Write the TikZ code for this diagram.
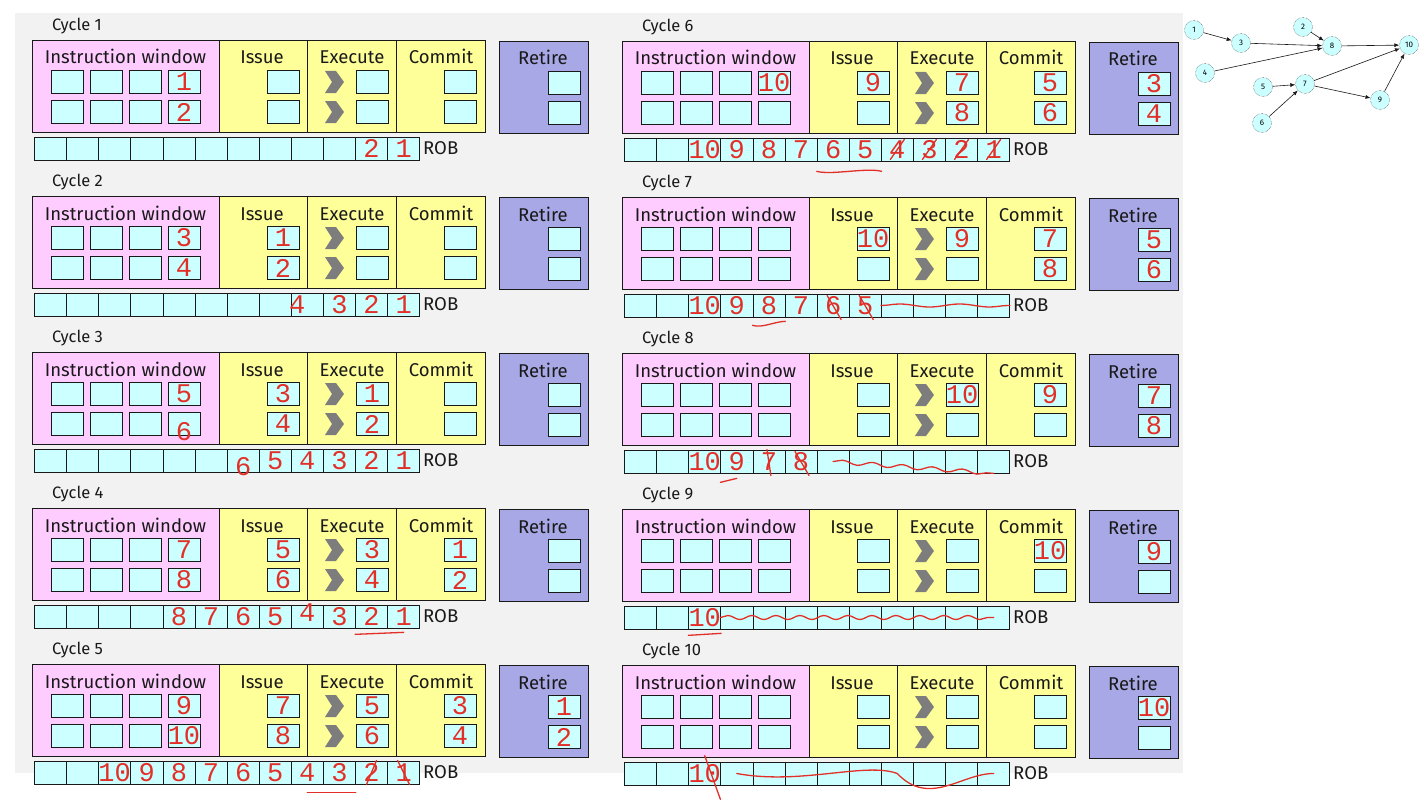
\documentclass[tikz,border=0pt]{standalone}
\usepackage{fontspec}
\setmainfont{Fira Sans}
\newfontfamily\handfont{Liberation Mono}
\usetikzlibrary{arrows.meta, decorations.pathmorphing}
\definecolor{cWin}{RGB}{255,204,255}
\definecolor{cStage}{RGB}{255,255,153}
\definecolor{cRetire}{RGB}{168,168,230}
\definecolor{cCell}{RGB}{204,255,255}
\definecolor{cBack}{RGB}{242,242,242}
\definecolor{cChev}{RGB}{125,125,125}
\definecolor{cInk}{RGB}{226,48,40}
\definecolor{tDark}{RGB}{25,25,25}

% one cycle of the pipeline: id, x, y, title
\newcommand{\cyclepanel}[4]{%
  \begin{scope}[shift={(#2,#3)}]
    \node[cyctitle] (#1t) at (20,-14) {#4};
    \node[stage=cWin, minimum width=187pt] (#1win) at (0,0) {};
    \node[stage=cStage, minimum width=88pt] (#1iss) at (187,0) {};
    \node[stage=cStage, minimum width=89pt] (#1exe) at (275,0) {};
    \node[stage=cStage, minimum width=89pt] (#1com) at (364,0) {};
    \node[stage=cRetire, minimum width=89pt] (#1ret) at (467,1) {};
    \node[head] (#1hw) at (93.5,24) {Instruction window};
    \node[head] (#1hi) at (230,24) {Issue};
    \node[head] (#1he) at (320,24) {Execute};
    \node[head] (#1hc) at (409,24) {Commit};
    \node[head] (#1hr) at (511,25) {Retire};
    \foreach \r/\yy in {1/42,2/72} {
      \foreach \c/\xx in {1/35,2/74,3/113,4/152}
        \node[cell] (#1w\r\c) at (\xx,\yy) {};
      \node[cell] (#1i\r) at (251,\yy) {};
      \fill[cChev] (293,\yy-11) -- (304,\yy-11) -- (312,\yy) -- (304,\yy+11)
        -- (293,\yy+11) -- (300,\yy) -- cycle;
      \node[cell] (#1e\r) at (340,\yy) {};
      \node[cell] (#1c\r) at (428,\yy) {};
      \node[cell] (#1r\r) at (532,\yy+1) {};
    }
    \foreach \k in {1,...,12}
      \node[cell, minimum width=32.1pt] (#1b\k) at ({18.5+32.1*(\k-1)},108.5) {};
    \node[head, anchor=west] (#1rob) at (391,108.5) {ROB};
  \end{scope}}

% handwritten entry on a cell
\newcommand{\hw}[3][]{\node[hand,#1] (#2h) at (#2) {#3};}

\begin{document}
\begin{tikzpicture}[
    x=1pt, y=-1pt,
    stage/.style={draw=tDark, fill=#1, line width=0.8pt, anchor=north west,
        minimum height=92pt, inner sep=0pt},
    cell/.style={draw=tDark, fill=cCell, line width=0.7pt, minimum width=32pt,
        minimum height=23pt, inner sep=0pt},
    head/.style={anchor=base, inner sep=0pt, text=tDark, font=\fontsize{18.5}{18.5}\selectfont},
    cyctitle/.style={anchor=west, inner sep=0pt, text=tDark, font=\fontsize{16.5}{17}\selectfont},
    hand/.style={text=cInk, inner sep=0pt, font=\handfont\fontsize{27}{27}\selectfont},
    ink/.style={draw=cInk, line width=1.3pt, line cap=round},
    wavy/.style={ink, decorate, decoration={snake, amplitude=2pt, segment length=30pt}},
    gnode/.style={circle, draw=tDark, densely dotted, fill=cCell, minimum size=19pt,
        inner sep=0pt, font=\fontsize{8}{8}\selectfont},
    garrow/.style={-{Latex[length=5pt, width=4pt]}, draw=tDark, line width=0.6pt}
]
\fill[white] (0,0) rectangle (1422,800);
\useasboundingbox (0,0) rectangle (1422,800);
\fill[cBack] (15,13) rectangle (1183,773);

\cyclepanel{ca}{32}{40}{Cycle 1}
\cyclepanel{cb}{32}{196}{Cycle 2}
\cyclepanel{cc}{32}{352}{Cycle 3}
\cyclepanel{cd}{32}{508}{Cycle 4}
\cyclepanel{ce}{32}{664}{Cycle 5}
\cyclepanel{cf}{622}{41}{Cycle 6}
\cyclepanel{cg}{622}{197}{Cycle 7}
\cyclepanel{ch}{622}{353}{Cycle 8}
\cyclepanel{ci}{622}{509}{Cycle 9}
\cyclepanel{cj}{622}{665}{Cycle 10}

% Cycle 1
\hw{caw14}{1} \hw{caw24}{2}
\hw{cab11}{2} \hw{cab12}{1}

% Cycle 2
\hw{cbw14}{3} \hw{cbw24}{4} \hw{cbi1}{1} \hw{cbi2}{2}
\hw[xshift=-10pt]{cbb9}{4} \hw{cbb10}{3} \hw{cbb11}{2} \hw{cbb12}{1}

% Cycle 3
\hw{ccw14}{5} \hw[yshift=-8pt]{ccw24}{6} \hw{cci1}{3} \hw{cci2}{4}
\hw{cce1}{1} \hw{cce2}{2}
\hw[yshift=-6pt]{ccb7}{6} \hw{ccb8}{5} \hw{ccb9}{4} \hw{ccb10}{3}
\hw{ccb11}{2} \hw{ccb12}{1}

% Cycle 4
\hw{cdw14}{7} \hw{cdw24}{8} \hw{cdi1}{5} \hw{cdi2}{6}
\hw{cde1}{3} \hw{cde2}{4} \hw{cdc1}{1} \hw{cdc2}{2}
\hw{cdb5}{8} \hw{cdb6}{7} \hw{cdb7}{6} \hw{cdb8}{5} \hw[yshift=4pt]{cdb9}{4}
\hw{cdb10}{3} \hw{cdb11}{2} \hw{cdb12}{1}
\draw[ink] ([yshift=-6pt]cdb11.south west) -- ([yshift=-4pt]cdb12.south);

% Cycle 5
\hw{cew14}{9} \hw{cew24}{10} \hw{cei1}{7} \hw{cei2}{8}
\hw{cee1}{5} \hw{cee2}{6} \hw{cec1}{3} \hw{cec2}{4} \hw{cer1}{1} \hw{cer2}{2}
\hw{ceb3}{10} \hw{ceb4}{9} \hw{ceb5}{8} \hw{ceb6}{7} \hw{ceb7}{6} \hw{ceb8}{5}
\hw{ceb9}{4} \hw{ceb10}{3} \hw{ceb11}{2} \hw{ceb12}{1}
\draw[ink] ([yshift=-8pt]ceb9.south) -- ([yshift=-8pt]ceb10.south east);
\draw[ink] ([shift={(-5pt,-12pt)}]ceb11h.center) -- ([shift={(5pt,12pt)}]ceb11h.center);
\draw[ink] ([shift={(6pt,-12pt)}]ceb12h.center) -- ([shift={(-6pt,12pt)}]ceb12h.center);

% Cycle 6
\hw{cfw14}{10} \hw{cfi1}{9} \hw{cfe1}{7} \hw{cfe2}{8}
\hw{cfc1}{5} \hw{cfc2}{6} \hw{cfr1}{3} \hw{cfr2}{4}
\hw{cfb3}{10} \hw{cfb4}{9} \hw{cfb5}{8} \hw{cfb6}{7} \hw{cfb7}{6} \hw{cfb8}{5}
\hw{cfb9}{4} \hw{cfb10}{3} \hw{cfb11}{2} \hw{cfb12}{1}
\foreach \k in {9,...,12}
  \draw[ink] ([shift={(-7pt,-10pt)}]cfb\k h.center) -- ([shift={(7pt,10pt)}]cfb\k h.center);
\draw[ink] ([yshift=-10pt]cfb7.south west) .. controls +(15,4) and +(-15,-4) .. ([yshift=-10pt]cfb8.south east);

% Cycle 7
\hw{cgi1}{10} \hw{cge1}{9} \hw{cgc1}{7} \hw{cgc2}{8} \hw{cgr1}{5} \hw{cgr2}{6}
\hw{cgb3}{10} \hw{cgb4}{9} \hw{cgb5}{8} \hw{cgb6}{7} \hw{cgb7}{6} \hw{cgb8}{5}
\draw[ink] ([shift={(-6pt,10pt)}]cgb7h.center) -- ([shift={(8pt,-14pt)}]cgb7h.center);
\draw[ink] ([shift={(-6pt,10pt)}]cgb8h.center) -- ([shift={(8pt,-14pt)}]cgb8h.center);
\draw[wavy, decoration={amplitude=1.5pt, segment length=60pt}] (cgb9.west) -- (cgb12.east);
\draw[ink] ([yshift=-8pt]cgb5.south west) .. controls +(10,3) and +(-10,0) .. ([yshift=-4pt]cgb5.south east);

% Cycle 8
\hw{che1}{10} \hw{chc1}{9} \hw{chr1}{7} \hw{chr2}{8}
\hw{chb3}{10} \hw{chb4}{9} \hw{chb5}{7} \hw{chb6}{8}
\draw[ink] ([shift={(-2pt,12pt)}]chb5h.center) -- ([shift={(2pt,-14pt)}]chb5h.center);
\draw[ink] ([shift={(-6pt,10pt)}]chb6h.center) -- ([shift={(8pt,-14pt)}]chb6h.center);
\draw[ink] ([yshift=-9pt]chb4.south west) -- ([yshift=-5pt]chb4.south);
\draw[wavy] (chb7.center) -- (chb12.south);

% Cycle 9
\hw{cic1}{10} \hw{cir1}{9}
\hw{cib3}{10}
\draw[ink] ([yshift=-6pt]cib3.south west) -- ([yshift=-4pt]cib3.south east);
\draw[wavy, decoration={segment length=24pt}] (cib4.west) -- (cib12.center);

% Cycle 10
\hw{cjr1}{10}
\hw{cjb3}{10}
\draw[ink] ([yshift=6pt]cjb3.north) -- ([yshift=-14pt]cjb4.south west);
\draw[ink] (cjb4.center) .. controls (cjb6.south) and (cjb8.north) .. (cjb9.center)
  .. controls ([yshift=-22pt]cjb10.south) and (cjb11.center) .. (cjb12.center);

% dependence graph
\node[gnode] (n1) at (1194,30) {1};
\node[gnode] (n2) at (1303,27) {2};
\node[gnode] (n3) at (1241,43) {3};
\node[gnode] (n4) at (1205,73) {4};
\node[gnode] (n5) at (1263,87) {5};
\node[gnode] (n6) at (1262,123) {6};
\node[gnode] (n7) at (1305,84) {7};
\node[gnode] (n8) at (1332,46) {8};
\node[gnode] (n9) at (1380,100) {9};
\node[gnode] (n10) at (1409,45) {10};
\draw[garrow] (n1) -- (n3);
\draw[garrow] (n3) -- (n8);
\draw[garrow] (n2) -- (n8);
\draw[garrow] (n4) -- (n8);
\draw[garrow] (n8) -- (n10);
\draw[garrow] (n5) -- (n7);
\draw[garrow] (n6) -- (n7);
\draw[garrow] (n7) -- (n10);
\draw[garrow] (n7) -- (n9);
\draw[garrow] (n9) -- (n10);

\end{tikzpicture}
\end{document}
